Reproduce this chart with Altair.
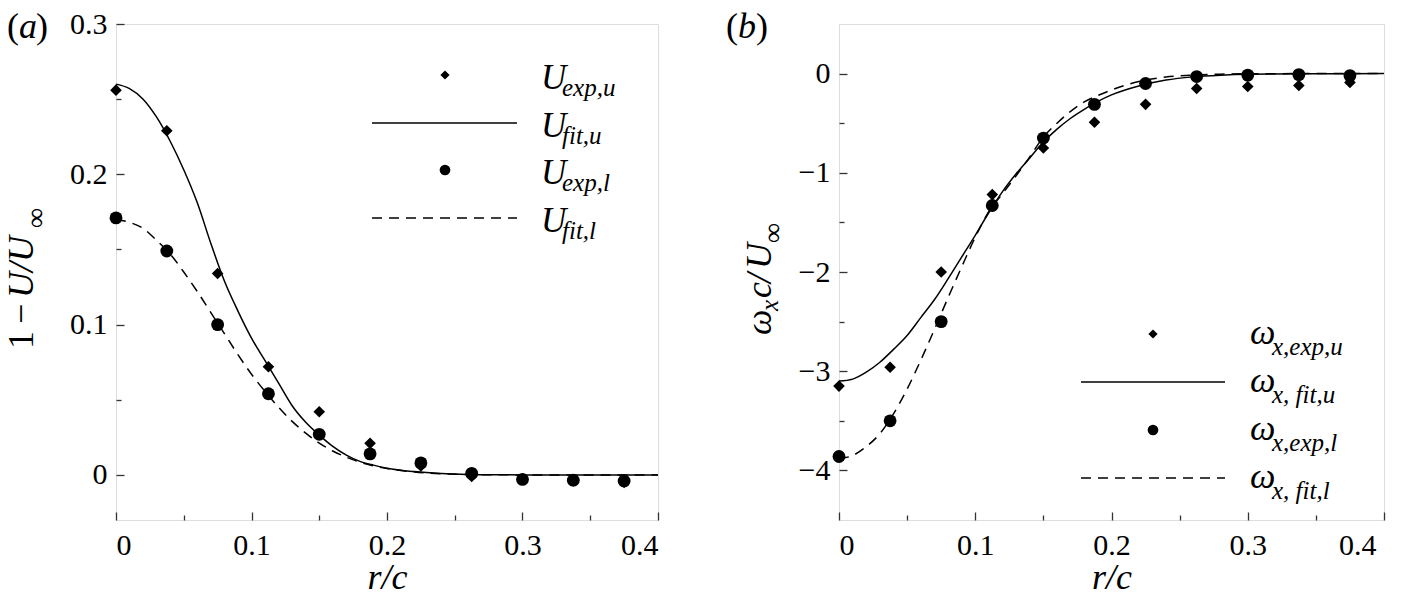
import altair as alt
import pandas as pd

# ---------------- data ----------------
r_exp = [0.0, 0.0375, 0.075, 0.1125, 0.15, 0.1875, 0.225, 0.2625, 0.3, 0.3375, 0.375]

# panel (a): 1 - U/U_inf
u_exp_u = [0.256, 0.229, 0.134, 0.072, 0.042, 0.021, 0.006, -0.001, -0.003, -0.004, -0.005]
u_exp_l = [0.171, 0.149, 0.100, 0.054, 0.027, 0.014, 0.008, 0.001, -0.003, -0.0035, -0.004]

r_fit = [0.00, 0.01, 0.02, 0.03, 0.04, 0.05, 0.06, 0.07, 0.08, 0.09, 0.10,
         0.11, 0.12, 0.13, 0.14, 0.15, 0.16, 0.17, 0.18, 0.19, 0.20,
         0.22, 0.24, 0.26, 0.28, 0.30, 0.35, 0.40]
u_fit_u = [0.260, 0.257, 0.250, 0.238, 0.222, 0.203, 0.181, 0.154, 0.129, 0.109, 0.091,
           0.076, 0.061, 0.046, 0.035, 0.0265, 0.019, 0.0132, 0.009, 0.0065, 0.0045,
           0.0022, 0.0009, 0.0003, 0.0001, 0.0, 0.0, 0.0]
u_fit_l = [0.170, 0.168, 0.164, 0.156, 0.147, 0.135, 0.122, 0.108, 0.094, 0.080, 0.067,
           0.0555, 0.045, 0.0356, 0.0278, 0.0212, 0.0159, 0.0118, 0.0085, 0.006, 0.0042,
           0.0019, 0.0008, 0.0003, 0.0001, 0.0, 0.0, 0.0]

# panel (b): omega_x c / U_inf
w_exp_u = [-3.15, -2.96, -2.00, -1.22, -0.75, -0.49, -0.31, -0.15, -0.13, -0.12, -0.09]
w_exp_l = [-3.86, -3.50, -2.50, -1.33, -0.65, -0.31, -0.10, -0.03, -0.015, -0.01, -0.02]
w_fit_u = [-3.10, -3.08, -3.01, -2.91, -2.78, -2.64, -2.46, -2.28, -2.07, -1.85, -1.63,
           -1.40, -1.19, -1.01, -0.85, -0.69, -0.56, -0.45, -0.36, -0.28, -0.215,
           -0.125, -0.065, -0.033, -0.016, -0.007, -0.001, 0.0]
w_fit_l = [-3.88, -3.85, -3.76, -3.63, -3.43, -3.18, -2.89, -2.58, -2.26, -1.95, -1.65,
           -1.39, -1.21, -1.03, -0.84, -0.64, -0.50, -0.38, -0.285, -0.22, -0.165,
           -0.08, -0.035, -0.015, -0.006, -0.002, 0.0, 0.0]

# axis tick values / labels
x_labels = [0, 0.1, 0.2, 0.3, 0.4]
x_minor = [0.05, 0.15, 0.25, 0.35]
ya_labels = [0, 0.1, 0.2, 0.3]
ya_minor = [0.05, 0.15, 0.25]
yb_labels = [0, -1, -2, -3, -4]
yb_minor = [-0.5, -1.5, -2.5, -3.5]

legend_a_main = ["U", "U", "U", "U"]
legend_a_sub = ["exp,u", "fit,u", "exp,l", "fit,l"]
legend_b_main = ["\u03c9", "\u03c9", "\u03c9", "\u03c9"]
legend_b_sub = ["x,exp,u", "x, fit,u", "x,exp,l", "x, fit,l"]

# ---------------- styling ----------------
FONT = "Liberation Serif, Times New Roman, Tinos, DejaVu Serif, serif"
INK = "#000000"
FRAME = "#333333"
H = 496
WA = 542
WB = 545
ONE = pd.DataFrame({"k": [0]})


def txt(s, x, y, size, italic=False, angle=0):
    return alt.Chart(ONE).mark_text(
        text=s, font=FONT, fontSize=size, fontStyle="italic" if italic else "normal",
        align="left", baseline="alphabetic", angle=angle, color=INK
    ).encode(x=alt.value(x), y=alt.value(y))


def sym(shape, x, y, size):
    return alt.Chart(ONE).mark_point(shape=shape, filled=True, size=size, color=INK, opacity=1).encode(
        x=alt.value(x), y=alt.value(y))


def seg(x1, x2, y, dash=None):
    kw = dict(color=INK, strokeWidth=1.5)
    if dash:
        kw["strokeDash"] = dash
    return alt.Chart(ONE).mark_rule(**kw).encode(x=alt.value(x1), x2=alt.value(x2), y=alt.value(y))


def tick_axis(orient, offset, values, size):
    return alt.Axis(orient=orient, offset=offset, values=values, labels=False, domain=False, grid=False,
                    ticks=True, tickColor=FRAME, tickWidth=1.3, tickSize=size, title=None)


def panel(exp_u, exp_l, fit_u, fit_l, ydom, ylabels, yminor, W, last_label_shift):
    df_exp = pd.DataFrame({"r": r_exp, "u": exp_u, "l": exp_l})
    df_fit = pd.DataFrame({"r": r_fit, "u": fit_u, "l": fit_l})
    xs = alt.Scale(domain=[0, 0.4], nice=False, zero=False)
    ys = alt.Scale(domain=ydom, nice=False, zero=False)

    x_lab = alt.Axis(orient="bottom", values=x_labels, format="~g", ticks=False, tickSize=0,
                     domain=False, grid=False, labelFont=FONT, labelFontSize=30, labelColor=INK,
                     labelPadding=10,
                     labelOffset={"condition": {"test": "datum.value > 0.39", "value": last_label_shift}, "value": 0},
                     title="r/c", titleFont=FONT, titleFontSize=36, titleFontStyle="italic",
                     titleFontWeight="normal", titleColor=INK, titleBaseline="alphabetic",
                     titleAlign="center", titleX=W / 2, titleY=68)
    y_lab = alt.Axis(orient="left", values=ylabels, format="~g", ticks=False, tickSize=0,
                     domain=False, grid=False, labelFont=FONT, labelFontSize=30, labelColor=INK,
                     labelPadding=9, title=None)

    line_u = alt.Chart(df_fit).mark_line(color=INK, strokeWidth=1.5, interpolate="monotone").encode(
        x=alt.X("r:Q", scale=xs, axis=x_lab), y=alt.Y("u:Q", scale=ys, axis=y_lab))
    line_l = alt.Chart(df_fit).mark_line(color=INK, strokeWidth=1.5, strokeDash=[10, 7],
                                         interpolate="monotone").encode(
        x=alt.X("r:Q", scale=xs, axis=tick_axis("top", -H, x_labels, 8)),
        y=alt.Y("l:Q", scale=ys, axis=tick_axis("right", -W, ylabels, 8)))
    pts_l = alt.Chart(df_exp).mark_point(shape="circle", filled=True, size=165, color=INK, opacity=1).encode(
        x=alt.X("r:Q", scale=xs, axis=tick_axis("top", -H, x_minor, 5)),
        y=alt.Y("l:Q", scale=ys, axis=tick_axis("right", -W, yminor, 5)))
    pts_u = alt.Chart(df_exp).mark_point(shape="diamond", filled=True, size=135, color=INK, opacity=1).encode(
        x=alt.X("r:Q", scale=xs, axis=None), y=alt.Y("u:Q", scale=ys, axis=None))
    return [line_u, line_l, pts_l, pts_u]


# ---------------- panel (a) ----------------
layers_a = panel(u_exp_u, u_exp_l, u_fit_u, u_fit_l, [-0.03, 0.3], ya_labels, ya_minor, WA, 0)
rows_a = [51, 99, 146, 194]
layers_a += [sym("diamond", 329, rows_a[0], 85), seg(256, 401, rows_a[1]),
             sym("circle", 329, rows_a[2], 115), seg(256, 401, rows_a[3], [10, 7])]
for i in range(4):
    layers_a.append(txt(legend_a_main[i], 425, rows_a[i] + 14, 35, italic=True))
    layers_a.append(txt(legend_a_sub[i], 446, rows_a[i] + 21, 25, italic=True))
# y title: 1 - U/U_inf (rotated)
layers_a += [txt("1", -83, 325, 36, angle=270),
             txt("\u2212", -83, 300, 36, angle=270),
             txt("U/U", -83, 274, 36, italic=True, angle=270),
             txt("\u221e", -71, 204, 28, angle=270)]
# panel label (a)
layers_a += [txt("(", -109, 14, 36), txt("a", -97, 14, 36, italic=True), txt(")", -80, 14, 36)]

chart_a = alt.layer(*layers_a).resolve_axis(x="independent", y="independent").properties(width=WA, height=H)

# ---------------- panel (b) ----------------
layers_b = panel(w_exp_u, w_exp_l, w_fit_u, w_fit_l, [-4.5, 0.5], yb_labels, yb_minor, WB, -8)
rows_b = [310, 358, 406, 454]
layers_b += [sym("diamond", 314, rows_b[0], 85), seg(242, 386, rows_b[1]),
             sym("circle", 314, rows_b[2], 115), seg(242, 386, rows_b[3], [10, 7])]
for i in range(4):
    layers_b.append(txt(legend_b_main[i], 411, rows_b[i] + 10, 36, italic=True))
    layers_b.append(txt(legend_b_sub[i], 433, rows_b[i] + 21, 25, italic=True))
# y title: omega_x c / U_inf (rotated)
layers_b += [txt("\u03c9", -68, 311, 36, italic=True, angle=270),
             txt("x", -61, 287, 25, italic=True, angle=270),
             txt("c", -68, 274, 36, italic=True, angle=270),
             txt("/", -68, 259, 36, italic=True, angle=270),
             txt("U", -68, 245, 36, italic=True, angle=270),
             txt("\u221e", -57, 219, 28, angle=270)]
layers_b += [txt("(", -113, 14, 36), txt("b", -101, 14, 36, italic=True), txt(")", -83, 14, 36)]

chart_b = alt.layer(*layers_b).resolve_axis(x="independent", y="independent").properties(width=WB, height=H)

chart = alt.hconcat(chart_a, chart_b, spacing=63,
                    padding={"left": -5, "top": 0, "right": 0, "bottom": 0}).configure_view(
    stroke=FRAME, strokeWidth=1.5).configure(background="white")

chart.save("out.html", embed_options={"renderer": "svg", "actions": False})
